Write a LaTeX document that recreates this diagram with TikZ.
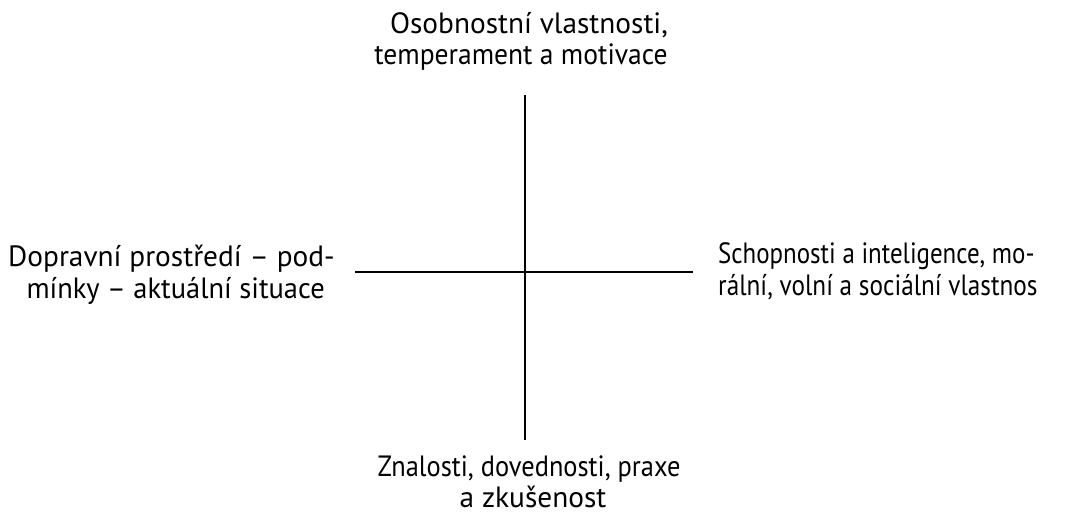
\documentclass[tikz,border=0pt]{standalone}
\usepackage{fontspec}
\setmainfont{PT Sans}
\begin{document}
\begin{tikzpicture}[x=0.75pt,y=-0.75pt, every node/.style={inner sep=0pt,font=\fontsize{22}{26}\selectfont}, squeeze/.style={xscale=#1,transform shape}, axis/.style={line width=1.2pt}]
\useasboundingbox (0,0) rectangle (1066,515);
\node[anchor=base] (top1) at (529,33) {Osobnostní vlastnosti,}; \node[anchor=base,squeeze=0.94] (top2) at (521,64) {temperament a motivace};
\node[anchor=base east] (left1) at (335,266) {Dopravní prostředí – pod-}; \node[anchor=base east,squeeze=0.97] (left2) at (325,298) {mínky – aktuální situace};
\node[anchor=base west,squeeze=0.85] (right1) at (718,263) {Schopnosti a inteligence, mo-}; \node[anchor=base west,squeeze=0.86] (right2) at (718,295) {rální, volní a sociální vlastnos};
\node[anchor=base,squeeze=0.9] (bot1) at (529,476) {Znalosti, dovednosti, praxe}; \node[anchor=base] (bot2) at (533,507) {a zkušenost};
\coordinate (n) at (525,95); \coordinate (s) at (525,440); \coordinate (w) at (355,272); \coordinate (e) at (693,272);
\draw[axis] (n) -- (s); \draw[axis] (w) -- (e);
\end{tikzpicture}
\end{document}
